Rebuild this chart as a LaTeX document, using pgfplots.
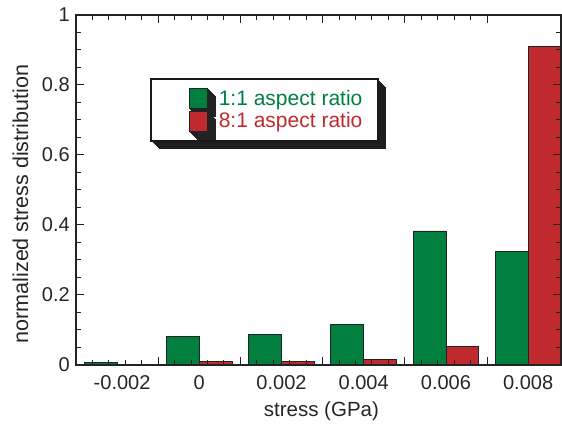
\documentclass[border=0pt]{standalone}
\usepackage{fontspec}
\setmainfont{Liberation Sans}
\usepackage{pgfplots}
\pgfplotsset{compat=1.18}
\usetikzlibrary{shadows}

\definecolor{barGreen}{RGB}{0,127,62}
\definecolor{barRed}{RGB}{192,42,46}
\definecolor{axisGray}{RGB}{35,35,35}
\definecolor{shadowGray}{RGB}{30,30,30}

\newcommand{\tickfont}{\fontsize{20}{24}\selectfont}

% stacked offset copies give the legend box a bevelled, extruded shadow
\tikzset{
  extruded/.style={
    general shadow={fill=shadowGray, shadow xshift=8pt, shadow yshift=-8pt},
    general shadow={fill=shadowGray, shadow xshift=7pt, shadow yshift=-7pt},
    general shadow={fill=shadowGray, shadow xshift=6pt, shadow yshift=-6pt},
    general shadow={fill=shadowGray, shadow xshift=5pt, shadow yshift=-5pt},
    general shadow={fill=shadowGray, shadow xshift=4pt, shadow yshift=-4pt},
    general shadow={fill=shadowGray, shadow xshift=3pt, shadow yshift=-3pt},
    general shadow={fill=shadowGray, shadow xshift=2pt, shadow yshift=-2pt},
    general shadow={fill=shadowGray, shadow xshift=1pt, shadow yshift=-1pt},
  }
}

\begin{document}
\fontsize{20}{24}\selectfont
\begin{tikzpicture}[font=\tickfont]
\begin{axis}[
  at={(76pt,60pt)}, anchor=south west,
  width=485pt, height=350pt, scale only axis,
  xmin=-3, xmax=8.8, ymin=0, ymax=1,
  axis on top,
  axis line style={axisGray, line width=1.2pt},
  tick style={axisGray, line width=1pt},
  tick align=inside, xtick pos=both, ytick pos=both,
  major tick length=8pt, minor tick length=5pt,
  xtick={-3,-1,1,3,5,7}, xticklabels={}, minor x tick num=4,
  extra x ticks={-2,0,2,4,6,8},
  extra x tick labels={\hspace*{10pt}-0.002,0,0.002,0.004,0.006,0.008},
  extra x tick style={major tick length=0pt},
  ytick={0,0.2,0.4,0.6,0.8,1},
  yticklabels={0,0.2,0.4,0.6,0.8,1},
  minor y tick num=3,
  tick label style={font=\tickfont, text=black!85},
  xticklabel style={anchor=base, inner sep=0pt, yshift=-25pt},
  yticklabel style={anchor=east, inner sep=0pt, xshift=-6pt},
  xlabel={stress (GPa)},
  ylabel={normalized stress distribution},
  xlabel style={at={([yshift=-52pt]axis description cs:0.506,0)},
    anchor=base, inner sep=0pt, font=\fontsize{20.5}{24}\selectfont, text=black!85},
  ylabel style={at={([xshift=-55.5pt]axis description cs:0,0.46)},
    anchor=center, font=\fontsize{21.5}{24}\selectfont, text=black!85},
  legend style={
    at={(0.1526,0.82)}, anchor=north west,
    draw=black!90, line width=2pt, fill=white,
    extruded,
    inner xsep=16pt, inner ysep=9.5pt,
    row sep=1.5pt, column sep=11pt,
    font=\fontsize{21}{24}\selectfont,
    nodes={inner sep=0pt},
  },
  legend cell align=left,
  legend image code/.code={
    \path (0pt,0pt);
    \draw[#1, line width=0.8pt] (22pt,-10pt) rectangle (40pt,10pt);
  },
]
% 1:1 aspect ratio
\addplot[ybar, bar width=0.8, bar shift=-0.4, fill=barGreen, draw=axisGray, line width=0.8pt]
  coordinates {(-2,0.006) (0,0.081) (2,0.086) (4,0.117) (6,0.383) (8,0.324)};
% 8:1 aspect ratio
\addplot[ybar, bar width=0.8, bar shift=0.4, fill=barRed, draw=axisGray, line width=0.8pt]
  coordinates {(0,0.010) (2,0.011) (4,0.016) (6,0.054) (8,0.909)};
\legend{\textcolor{barGreen}{1:1 aspect ratio}, \textcolor{barRed}{8:1 aspect ratio}}
\end{axis}
\pgfresetboundingbox
\path[use as bounding box] (0pt,0pt) rectangle (562pt,425pt);
\end{tikzpicture}
\end{document}
